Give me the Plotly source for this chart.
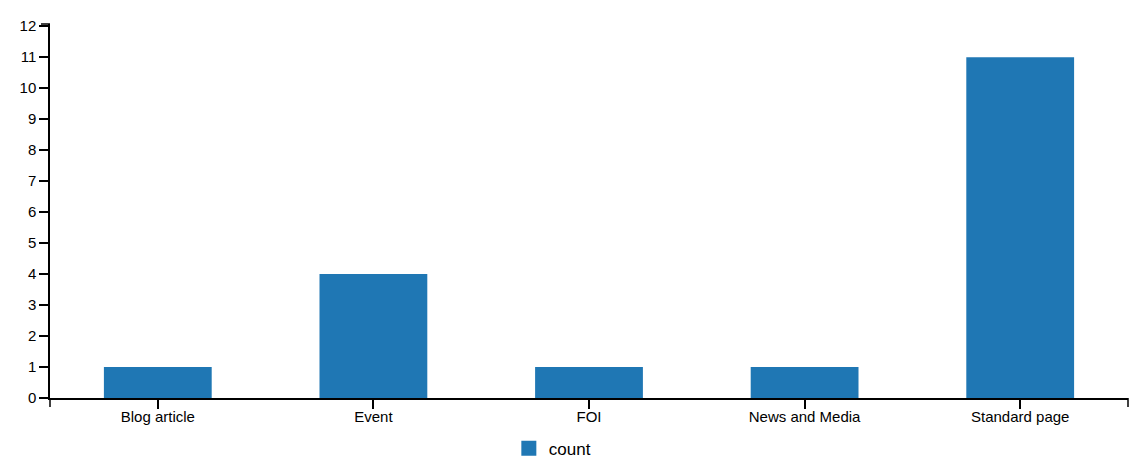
import plotly.graph_objects as go

categories = ["Blog article", "Event", "FOI", "News and Media", "Standard page"]
counts = [1, 4, 1, 1, 11]
series_name = "count"
y_ticks = list(range(0, 13))

BAR_COLOR = "#1f77b4"
FONT = "Liberation Sans, Arial, sans-serif"

fig = go.Figure()
fig.add_trace(go.Bar(x=categories, y=counts, name=series_name, showlegend=False,
                     legendgroup=series_name,
                     marker=dict(color=BAR_COLOR, line=dict(width=0))))
# legend entry with a 15px square swatch
fig.add_trace(go.Scatter(x=[None], y=[None], mode="markers", name=series_name,
                         legendgroup=series_name, hoverinfo="skip",
                         marker=dict(symbol="square", size=15, color=BAR_COLOR,
                                     line=dict(width=0))))

axis_common = dict(showline=True, linecolor="black", linewidth=1.5,
                   ticks="outside", ticklen=9, tickwidth=1.5, tickcolor="black",
                   showgrid=False, zeroline=False, automargin=False,
                   tickfont=dict(family=FONT, size=15, color="black"))

fig.update_layout(
    width=1145, height=467,
    margin=dict(l=50, r=17, t=24, b=69, autoexpand=False),
    paper_bgcolor="white", plot_bgcolor="white",
    bargap=0.5,
    showlegend=True,
    legend=dict(orientation="h", xref="container", yref="container",
                x=0.4444, xanchor="left", y=0.039, yanchor="middle",
                font=dict(family=FONT, size=17, color="black")),
    xaxis=dict(**axis_common, type="category", ticklabelstandoff=-5),
    yaxis=dict(**axis_common, range=[0, 12.07], tickmode="array",
               tickvals=y_ticks, ticktext=[str(v) for v in y_ticks]),
)

# outer domain ticks (d3/c3 style)
for xp in (0, 1):
    fig.add_shape(type="line", xref="paper", yref="paper", ysizemode="pixel",
                  yanchor=0, x0=xp, x1=xp, y0=0, y1=-9,
                  line=dict(color="black", width=1.5))
fig.add_shape(type="line", xref="paper", yref="paper", xsizemode="pixel",
              xanchor=0, x0=-9, x1=0, y0=1, y1=1,
              line=dict(color="black", width=1.5))

fig.write_html("out.html")
